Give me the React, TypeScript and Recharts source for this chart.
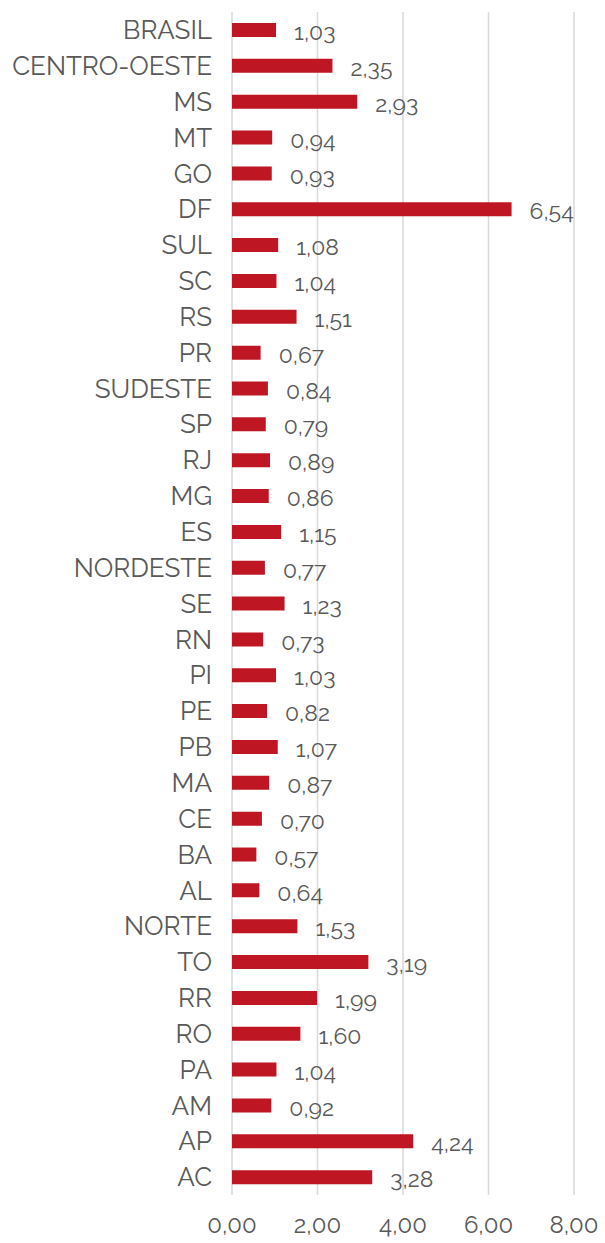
import { BarChart, Bar, XAxis, YAxis, CartesianGrid, LabelList } from "recharts"

const regions = [
  "BRASIL", "CENTRO-OESTE", "MS", "MT", "GO", "DF", "SUL", "SC", "RS", "PR",
  "SUDESTE", "SP", "RJ", "MG", "ES", "NORDESTE", "SE", "RN", "PI", "PE",
  "PB", "MA", "CE", "BA", "AL", "NORTE", "TO", "RR", "RO", "PA", "AM", "AP", "AC",
]
const values = [
  1.03, 2.35, 2.93, 0.94, 0.93, 6.54, 1.08, 1.04, 1.51, 0.67,
  0.84, 0.79, 0.89, 0.86, 1.15, 0.77, 1.23, 0.73, 1.03, 0.82,
  1.07, 0.87, 0.7, 0.57, 0.64, 1.53, 3.19, 1.99, 1.6, 1.04, 0.92, 4.24, 3.28,
]
const xTicks = [0, 2, 4, 6, 8]

const data = regions.map((name, i) => ({ name, value: values[i] }))

const fmt = (v: number) => v.toFixed(2).replace(".", ",")
const font = "Raleway, Lato, 'Open Sans', sans-serif"
const gray = "#595959"

export default function App() {
  return (
    <div style={{ position: "absolute", left: 0, top: 0, background: "#fff" }}>
      <BarChart
        width={605}
        height={1243}
        data={data}
        layout="vertical"
        margin={{ top: 12, right: 31, bottom: 0, left: 0 }}
        barCategoryGap="30%"
      >
        <CartesianGrid horizontal={false} vertical={true} stroke="#d9d9d9" strokeWidth={1.5} />
        <XAxis
          type="number"
          domain={[0, 8]}
          ticks={xTicks}
          tickFormatter={fmt}
          axisLine={false}
          tickLine={false}
          tickSize={0}
          tickMargin={21}
          height={48}
          interval={0}
          tick={{ fill: gray, fontSize: 24, fontFamily: font }}
        />
        <YAxis
          type="category"
          dataKey="name"
          width={232}
          axisLine={false}
          tickLine={false}
          tickSize={0}
          tickMargin={20}
          interval={0}
          tick={{ fill: gray, fontSize: 26, fontFamily: font }}
        />
        <Bar dataKey="value" fill="#be1622" barSize={14} isAnimationActive={false}>
          <LabelList
            dataKey="value"
            position="right"
            offset={18}
            formatter={(v: any) => fmt(Number(v))}
            style={{ fill: gray, fontSize: 23, fontFamily: font }}
            dy={2}
          />
        </Bar>
      </BarChart>
    </div>
  )
}
